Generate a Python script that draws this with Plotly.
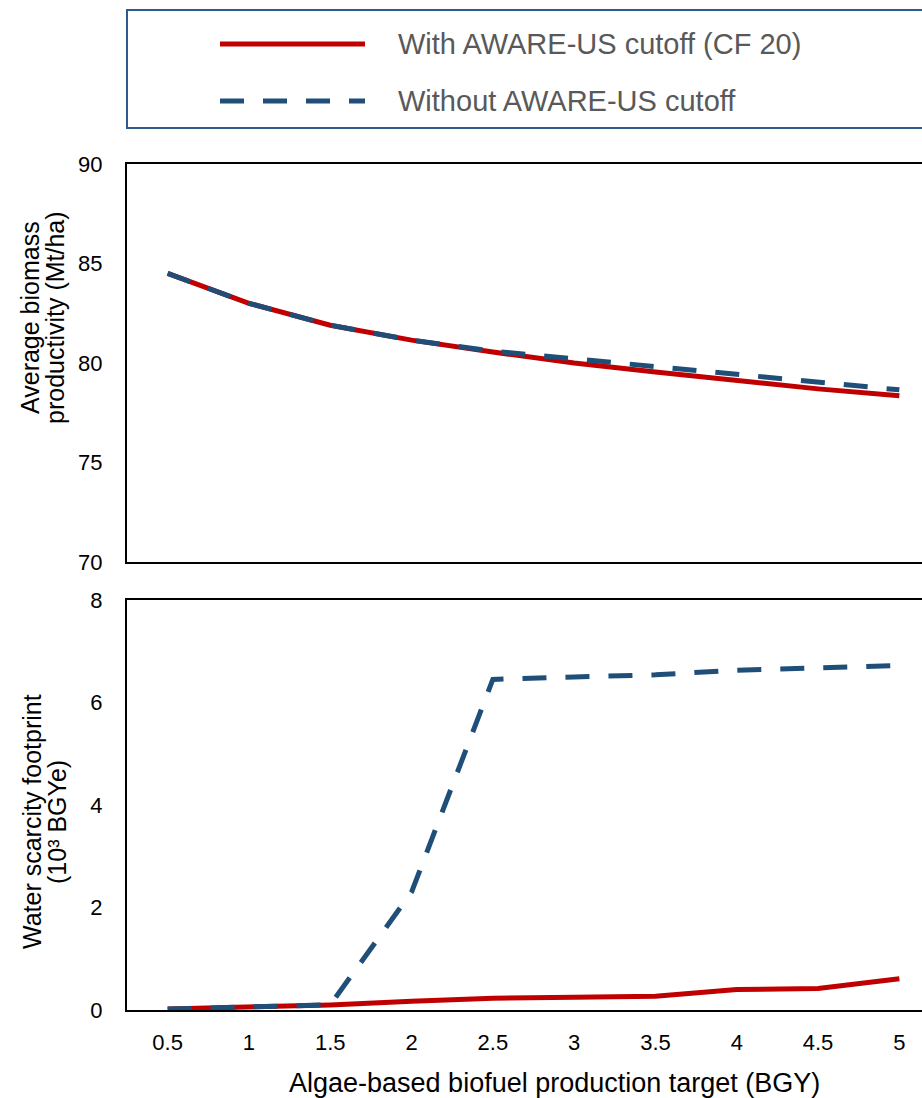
import plotly.graph_objects as go

# ---- data ----
targets = ["0.5", "1", "1.5", "2", "2.5", "3", "3.5", "4", "4.5", "5"]
prod_with = [84.5, 83.0, 81.9, 81.15, 80.55, 80.0, 79.55, 79.1, 78.7, 78.35]
prod_without = [84.5, 83.0, 81.9, 81.15, 80.6, 80.2, 79.8, 79.4, 79.0, 78.65]
wsf_with = [0.02, 0.06, 0.10, 0.17, 0.23, 0.25, 0.27, 0.40, 0.42, 0.61]
wsf_without = [0.02, 0.07, 0.10, 2.3, 6.45, 6.5, 6.54, 6.63, 6.67, 6.72]
series_names = ["With AWARE-US cutoff (CF 20)", "Without AWARE-US cutoff"]
y1_ticks = [70, 75, 80, 85, 90]
y2_ticks = [0, 2, 4, 6, 8]

RED = "#C00000"
BLUE = "#1F4E79"
FONT = "Liberation Sans, Arial, sans-serif"

W, H = 922, 1098
L, R, T, B = 127, 0, 164, 88
PW = W - L - R
PH = H - T - B


def px(x):
    return (x - L) / PW


def py(y):
    return (H - B - y) / PH


fig = go.Figure()
fig.add_trace(go.Scatter(x=targets, y=prod_with, mode="lines", name=series_names[0],
                         line=dict(color=RED, width=5), xaxis="x", yaxis="y", showlegend=False))
fig.add_trace(go.Scatter(x=targets, y=prod_without, mode="lines", name=series_names[1],
                         line=dict(color=BLUE, width=5, dash="24px,19px"), xaxis="x", yaxis="y", showlegend=False))
fig.add_trace(go.Scatter(x=targets, y=wsf_with, mode="lines", name=series_names[0],
                         line=dict(color=RED, width=5), xaxis="x2", yaxis="y2", showlegend=False))
fig.add_trace(go.Scatter(x=targets, y=wsf_without, mode="lines", name=series_names[1],
                         line=dict(color=BLUE, width=5, dash="24px,19px"), xaxis="x2", yaxis="y2", showlegend=False))

xrange = [-0.5, (W - L) / 81.3 - 0.5]
common_x = dict(type="category", range=xrange, showline=True, linecolor="black", linewidth=2,
                mirror=True, showgrid=False, zeroline=False, ticks="")
fig.update_layout(
    width=W, height=H,
    margin=dict(l=L, r=R, t=T, b=B),
    paper_bgcolor="white", plot_bgcolor="white",
    font=dict(family=FONT, size=22, color="black"),
    xaxis=dict(**common_x, domain=[0, 1], anchor="y", showticklabels=False),
    xaxis2=dict(**common_x, domain=[0, 1], anchor="y2", showticklabels=True,
                tickfont=dict(size=22, color="black"), ticklabelstandoff=12),
    yaxis=dict(domain=[py(562), 1], range=[70, 90], tickvals=y1_ticks, showline=True,
               linecolor="black", linewidth=2, showgrid=False, zeroline=False, ticks="",
               tickfont=dict(size=22, color="black"), ticklabelstandoff=18),
    yaxis2=dict(domain=[0, py(600)], range=[0, 8], tickvals=y2_ticks, showline=True,
                linecolor="black", linewidth=2, showgrid=False, zeroline=False, ticks="",
                tickfont=dict(size=22, color="black"), ticklabelstandoff=18),
)

# legend box and entries (drawn manually)
shapes = [
    dict(type="rect", xref="paper", yref="paper", x0=px(127), x1=px(960), y0=py(128), y1=py(10),
         line=dict(color="#2E5C8A", width=2), fillcolor="rgba(0,0,0,0)"),
    dict(type="line", xref="paper", yref="paper", x0=px(220), x1=px(365), y0=py(44), y1=py(44),
         line=dict(color=RED, width=5)),
    dict(type="line", xref="paper", yref="paper", x0=px(220), x1=px(365), y0=py(101), y1=py(101),
         line=dict(color=BLUE, width=5, dash="24px,19px")),
]
fig.update_layout(shapes=shapes)

ann = [
    dict(text=series_names[0], x=px(396), y=py(44), xanchor="left", yanchor="middle",
         font=dict(size=29, color="#595959")),
    dict(text=series_names[1], x=px(396), y=py(101), xanchor="left", yanchor="middle",
         font=dict(size=29, color="#595959")),
    dict(text="Average biomass", x=px(30), y=py(318), textangle=-90,
         xanchor="center", yanchor="middle", font=dict(size=25, color="black")),
    dict(text="productivity (Mt/ha)", x=px(55), y=py(318), textangle=-90,
         xanchor="center", yanchor="middle", font=dict(size=25, color="black")),
    dict(text="Water scarcity footprint", x=px(32), y=py(822), textangle=-90,
         xanchor="center", yanchor="middle", font=dict(size=25, color="black")),
    dict(text="(10³ BGYe)", x=px(57), y=py(822), textangle=-90,
         xanchor="center", yanchor="middle", font=dict(size=25, color="black")),
    dict(text="Algae-based biofuel production target (BGY)", x=px(554), y=py(1083),
         xanchor="center", yanchor="middle", font=dict(size=27, color="black")),
]
for a in ann:
    a.update(xref="paper", yref="paper", showarrow=False)
fig.update_layout(annotations=ann)

fig.write_html("out.html", config={"displayModeBar": False},
               post_script="document.body.style.margin='0';document.body.style.padding='0';")
